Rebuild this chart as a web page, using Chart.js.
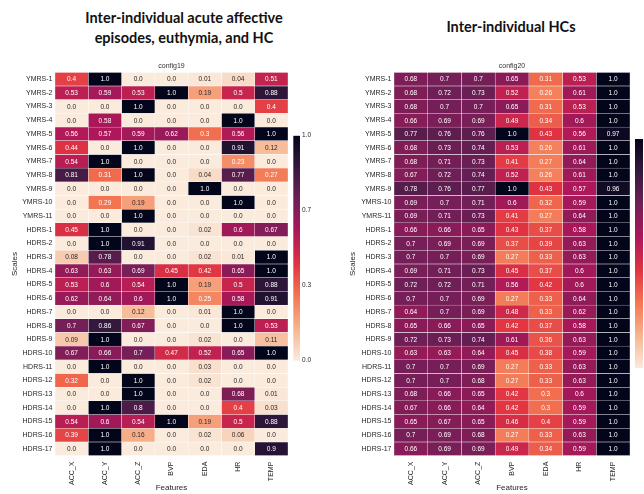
<!DOCTYPE html>
<html lang="en">
<head>
<meta charset="UTF-8" />
<title>Inter-individual heatmaps</title>
<script src="https://cdn.jsdelivr.net/npm/chart.js@4.4.0/dist/chart.umd.min.js"></script>
<style>
  html, body { margin:0; padding:0; background:#fff; overflow:hidden; width:644px; height:494px; }
  canvas { position:absolute; }
  .ttl { position:absolute; font-family:Lato, sans-serif; font-weight:700; font-size:14.5px; color:#111;
         text-align:center; line-height:20px; white-space:nowrap; width:220px; }
</style>
</head>
<body>
<div class="ttl" style="left:74px; top:8px;">Inter-individual acute affective<br>episodes, euthymia, and HC</div>
<div class="ttl" style="left:401px; top:17px;">Inter-individual HCs</div>

<canvas id="hm19" width="288" height="439" style="left:0;top:55px"></canvas>
<canvas id="cb19" width="30" height="245" style="left:290px;top:125px"></canvas>
<canvas id="hm20" width="292" height="439" style="left:338px;top:55px"></canvas>
<canvas id="cb20" width="30" height="250" style="left:632px;top:125px"></canvas>

<script>
  // ── data ─────────────────────────────────────────────
  const features = ['ACC_X', 'ACC_Y', 'ACC_Z', 'BVP', 'EDA', 'HR', 'TEMP'];
  const scales = ['YMRS-1', 'YMRS-2', 'YMRS-3', 'YMRS-4', 'YMRS-5', 'YMRS-6', 'YMRS-7', 'YMRS-8',
    'YMRS-9', 'YMRS-10', 'YMRS-11', 'HDRS-1', 'HDRS-2', 'HDRS-3', 'HDRS-4', 'HDRS-5', 'HDRS-6',
    'HDRS-7', 'HDRS-8', 'HDRS-9', 'HDRS-10', 'HDRS-11', 'HDRS-12', 'HDRS-13', 'HDRS-14',
    'HDRS-15', 'HDRS-16', 'HDRS-17'];
  const colorbarTicks = [0, 1 / 3, 2 / 3, 1];

  // config19: acute affective episodes, euthymia and HC (rows = scales, cols = features)
  const config19 = [
    [0.4, 1.0, 0.0, 0.0, 0.01, 0.04, 0.51],
    [0.53, 0.59, 0.53, 1.0, 0.19, 0.5, 0.88],
    [0.0, 0.0, 1.0, 0.0, 0.0, 0.0, 0.4],
    [0.0, 0.58, 0.0, 0.0, 0.0, 1.0, 0.0],
    [0.56, 0.57, 0.59, 0.62, 0.3, 0.56, 1.0],
    [0.44, 0.0, 1.0, 0.0, 0.0, 0.91, 0.12],
    [0.54, 1.0, 0.0, 0.0, 0.0, 0.23, 0.0],
    [0.81, 0.31, 1.0, 0.0, 0.04, 0.77, 0.27],
    [0.0, 0.0, 0.0, 0.0, 1.0, 0.0, 0.0],
    [0.0, 0.29, 0.19, 0.0, 0.0, 1.0, 0.0],
    [0.0, 0.0, 1.0, 0.0, 0.0, 0.0, 0.0],
    [0.45, 1.0, 0.0, 0.0, 0.02, 0.6, 0.67],
    [0.0, 1.0, 0.91, 0.0, 0.0, 0.0, 0.0],
    [0.08, 0.78, 0.0, 0.0, 0.02, 0.01, 1.0],
    [0.63, 0.63, 0.69, 0.45, 0.42, 0.65, 1.0],
    [0.53, 0.6, 0.54, 1.0, 0.19, 0.5, 0.88],
    [0.62, 0.64, 0.6, 1.0, 0.25, 0.58, 0.91],
    [0.0, 0.0, 0.12, 0.0, 0.01, 1.0, 0.0],
    [0.7, 0.86, 0.67, 0.0, 0.0, 1.0, 0.53],
    [0.09, 1.0, 0.0, 0.0, 0.02, 0.0, 0.11],
    [0.67, 0.66, 0.7, 0.47, 0.52, 0.65, 1.0],
    [0.0, 1.0, 0.0, 0.0, 0.03, 0.0, 0.0],
    [0.32, 0.0, 1.0, 0.0, 0.02, 0.0, 0.0],
    [0.0, 0.0, 1.0, 0.0, 0.0, 0.68, 0.01],
    [0.0, 1.0, 0.8, 0.0, 0.0, 0.4, 0.03],
    [0.54, 0.6, 0.54, 1.0, 0.19, 0.5, 0.88],
    [0.39, 1.0, 0.16, 0.0, 0.02, 0.06, 0.0],
    [0.0, 1.0, 0.0, 0.0, 0.0, 0.0, 0.9]
  ];

  // config20: HCs only
  const config20 = [
    [0.68, 0.7, 0.7, 0.65, 0.31, 0.53, 1.0],
    [0.68, 0.72, 0.73, 0.52, 0.26, 0.61, 1.0],
    [0.68, 0.7, 0.7, 0.65, 0.31, 0.53, 1.0],
    [0.66, 0.69, 0.69, 0.49, 0.34, 0.6, 1.0],
    [0.77, 0.76, 0.76, 1.0, 0.43, 0.56, 0.97],
    [0.68, 0.73, 0.74, 0.53, 0.26, 0.61, 1.0],
    [0.68, 0.71, 0.73, 0.41, 0.27, 0.64, 1.0],
    [0.67, 0.72, 0.74, 0.52, 0.26, 0.61, 1.0],
    [0.78, 0.76, 0.77, 1.0, 0.43, 0.57, 0.96],
    [0.69, 0.7, 0.71, 0.6, 0.32, 0.59, 1.0],
    [0.69, 0.71, 0.73, 0.41, 0.27, 0.64, 1.0],
    [0.66, 0.66, 0.65, 0.43, 0.37, 0.58, 1.0],
    [0.7, 0.69, 0.69, 0.37, 0.39, 0.63, 1.0],
    [0.7, 0.7, 0.69, 0.27, 0.33, 0.63, 1.0],
    [0.69, 0.71, 0.73, 0.45, 0.37, 0.6, 1.0],
    [0.72, 0.72, 0.71, 0.56, 0.42, 0.6, 1.0],
    [0.7, 0.7, 0.69, 0.27, 0.33, 0.64, 1.0],
    [0.64, 0.7, 0.69, 0.48, 0.33, 0.62, 1.0],
    [0.65, 0.66, 0.65, 0.42, 0.37, 0.58, 1.0],
    [0.72, 0.73, 0.74, 0.61, 0.36, 0.63, 1.0],
    [0.63, 0.63, 0.64, 0.45, 0.38, 0.59, 1.0],
    [0.7, 0.7, 0.69, 0.27, 0.33, 0.63, 1.0],
    [0.7, 0.7, 0.68, 0.27, 0.33, 0.63, 1.0],
    [0.68, 0.66, 0.65, 0.42, 0.3, 0.6, 1.0],
    [0.67, 0.66, 0.64, 0.42, 0.3, 0.59, 1.0],
    [0.65, 0.67, 0.65, 0.46, 0.4, 0.59, 1.0],
    [0.7, 0.69, 0.68, 0.27, 0.33, 0.63, 1.0],
    [0.66, 0.69, 0.69, 0.49, 0.34, 0.59, 1.0]
  ];

  // ── colour map (seaborn rocket_r) ───────────────────
  const rocketStops = ['#faebdd', '#f6b48f', '#f37651', '#e13342', '#ad1759', '#701f57', '#35193e', '#03051a'];
  const hexRgb = h => [1, 3, 5].map(i => parseInt(h.slice(i, i + 2), 16));

  function rocketRgb(v) {
    const t = Math.min(Math.max(v, 0), 1) * (rocketStops.length - 1);
    const i = Math.min(Math.floor(t), rocketStops.length - 2);
    const f = t - i;
    const a = hexRgb(rocketStops[i]), b = hexRgb(rocketStops[i + 1]);
    return a.map((c, k) => Math.round(c + (b[k] - c) * f));
  }
  const rocketR = v => 'rgb(' + rocketRgb(v).join(',') + ')';

  // white text on dark cells, like seaborn does
  function textColor(v) {
    const lin = rocketRgb(v).map(c => {
      c /= 255;
      return c <= 0.03928 ? c / 12.92 : Math.pow((c + 0.055) / 1.055, 2.4);
    });
    const lum = 0.2126 * lin[0] + 0.7152 * lin[1] + 0.0722 * lin[2];
    return lum > 0.408 ? '#262626' : '#ffffff';
  }
  const fmt = v => Number.isInteger(v) ? v.toFixed(1) : String(v);

  const FONT = '"Liberation Sans", Arial, sans-serif';
  const INK = '#262626';

  // annotate every cell with its value
  const cellText = {
    id: 'cellText',
    afterDatasetsDraw(chart, args, opts) {
      const ctx = chart.ctx;
      ctx.save();
      ctx.font = '6.5px ' + FONT;
      ctx.textAlign = 'center';
      ctx.textBaseline = 'middle';
      chart.data.datasets.forEach((ds, j) => {
        chart.getDatasetMeta(j).data.forEach((bar, i) => {
          const v = opts.values[i][j];
          const p = bar.getProps(['x', 'y', 'base'], true);
          ctx.fillStyle = textColor(v);
          ctx.fillText(fmt(v), (p.x + p.base) / 2, p.y + 0.5);
        });
      });
      ctx.restore();
    }
  };

  function heatmap(id, values, name, axisWidth) {
    return new Chart(document.getElementById(id), {
      type: 'bar',
      data: {
        labels: scales,
        datasets: features.map((f, j) => ({
          label: f,
          data: scales.map(() => 1),
          backgroundColor: values.map(row => rocketR(row[j])),
          borderColor: 'rgba(255,255,255,0.45)',
          borderWidth: 0.5,
          borderSkipped: false,
          barPercentage: 1,
          categoryPercentage: 1
        }))
      },
      options: {
        indexAxis: 'y',
        responsive: false,
        animation: false,
        layout: { padding: 0 },
        plugins: {
          legend: { display: false },
          tooltip: { enabled: false },
          title: {
            display: true, text: name, fullSize: false, color: '#333',
            font: { family: FONT, size: 7, weight: 'normal' },
            padding: { top: 6.8, bottom: 2.1 }
          },
          cellText: { values }
        },
        scales: {
          x: { type: 'linear', stacked: true, min: 0, max: features.length, display: false },
          xf: {
            type: 'category', labels: features, position: 'bottom', offset: true,
            grid: { display: false, drawTicks: false }, border: { display: false },
            ticks: { color: INK, font: { family: FONT, size: 7 }, minRotation: 90, maxRotation: 90, padding: 6, autoSkip: false },
            title: { display: true, text: 'Features', color: INK, font: { family: FONT, size: 8 }, padding: { top: 0, bottom: 1 } },
            afterFit: s => { s.height = 38.3; }
          },
          y: {
            type: 'category', stacked: true,
            grid: { display: false, drawTicks: false }, border: { display: false },
            ticks: { color: INK, font: { family: FONT, size: 7 }, padding: 2.5, autoSkip: false },
            title: { display: true, text: 'Scales', color: INK, font: { family: FONT, size: 8 }, padding: { top: 10, bottom: 0 } },
            afterFit: s => { s.width = axisWidth; }
          }
        }
      },
      plugins: [cellText]
    });
  }

  function colorbar(id, pad, barW, axisW) {
    return new Chart(document.getElementById(id), {
      type: 'bar',
      data: {
        labels: [''],
        datasets: [{
          data: [1],
          barPercentage: 1,
          categoryPercentage: 1,
          borderWidth: 0,
          backgroundColor: c => {
            const area = c.chart.chartArea;
            if (!area) return null;
            const g = c.chart.ctx.createLinearGradient(0, area.bottom, 0, area.top);
            for (let k = 0; k <= 28; k++) g.addColorStop(k / 28, rocketR(k / 28));
            return g;
          }
        }]
      },
      options: {
        responsive: false,
        animation: false,
        layout: { padding: pad },
        plugins: { legend: { display: false }, tooltip: { enabled: false } },
        scales: {
          x: { display: false },
          y: {
            position: 'right', min: 0, max: 1,
            grid: { display: false, drawTicks: false }, border: { display: false },
            afterBuildTicks: s => { s.ticks = colorbarTicks.map(v => ({ value: v })); },
            ticks: { color: INK, font: { family: FONT, size: 6.5 }, padding: 2, autoSkip: false,
                     callback: v => v.toFixed(1) },
            afterFit: s => { s.width = axisW; }
          }
        }
      }
    });
  }

  heatmap('hm19', config19, 'config19', 55);
  heatmap('hm20', config20, 'config20', 56);
  colorbar('cb19', { left: 3.3, top: 10.7, bottom: 9.3, right: 0 }, 6.7, 20);
  colorbar('cb20', { left: 3, top: 14, bottom: 6.7, right: 0 }, 8, 19);
</script>
</body>
</html>
